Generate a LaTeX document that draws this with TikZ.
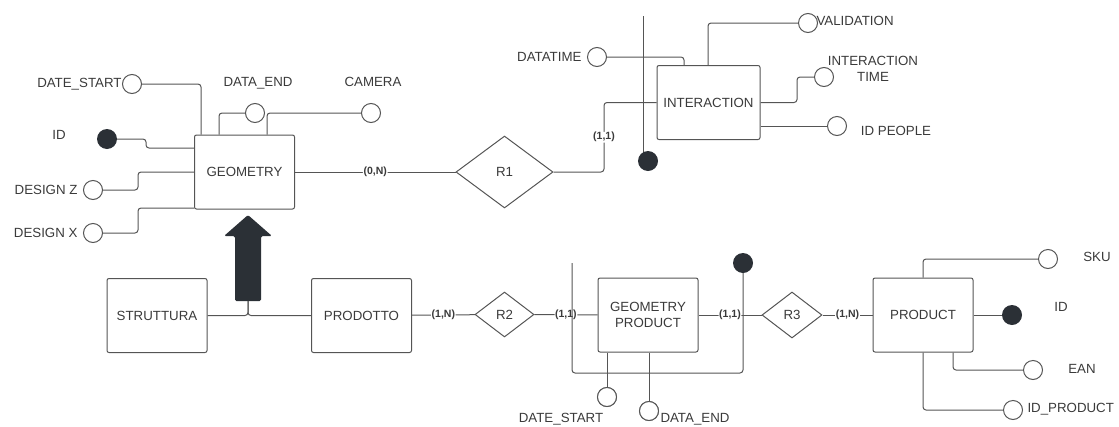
\documentclass[tikz,border=0pt]{standalone}
\usepackage{fontspec}
\setmainfont{Liberation Sans}
\usetikzlibrary{shapes.geometric}

\definecolor{erline}{HTML}{555555}
\definecolor{ertext}{HTML}{3A3A3A}
\definecolor{erdark}{HTML}{2B3036}

\begin{document}
\begin{tikzpicture}[x=1pt,y=-1pt,line width=1pt,
	entity/.style={draw=erline, rounded corners=2, minimum width=100, minimum height=74, align=center, text=ertext, font=\fontsize{13.3}{16}\selectfont},
	rel/.style={draw=erline, diamond, inner sep=0, text=ertext, font=\fontsize{13.3}{16}\selectfont},
	attr/.style={draw=erline, circle, fill=white, minimum size=19, inner sep=0},
	key/.style={circle, fill=erdark, minimum size=20, inner sep=0},
	lbl/.style={text=ertext, font=\fontsize{13.3}{16}\selectfont, inner sep=0, text height=9.5, text depth=0, align=center},
	card/.style={fill=white, inner sep=0.6, text=ertext, font=\fontsize{10.5}{12}\selectfont\bfseries},
	conn/.style={draw=erline, rounded corners=3}]
	\useasboundingbox (0,0) rectangle (1119,426);

	\node[entity] (geo) at (244.5,172) {GEOMETRY};
	\node[entity, minimum width=103] (inter) at (708.5,102.5) {INTERACTION};
	\node[entity] (strutt) at (157,315.5) {STRUTTURA};
	\node[entity] (prod) at (361.5,315.5) {PRODOTTO};
	\node[entity] (geoprod) at (648,315) {GEOMETRY\\PRODUCT};
	\node[entity] (product) at (923,315) {PRODUCT};

	\node[rel, minimum width=97, minimum height=72] (r1) at (504.5,172) {R1};
	\node[rel, minimum width=59, minimum height=45] (r2) at (504.5,314.5) {R2};
	\node[rel, minimum width=60, minimum height=46] (r3) at (792,315) {R3};

	% geometry
	\draw[conn] (132,84) -| (geo.north -| 201,0);
	\draw[conn] (255,113) -| (geo.north -| 219,0);
	\draw[conn] (371,113) -| (geo.north -| 267,0);
	\draw[conn] (107,139) -- (146,139) |- (geo.west |- 0,148);
	\draw[conn] (93,190) -| (138,172) -- (geo.west);
	\draw[conn] (93,233) -| (138,208) -- (geo.west |- 0,208);
	\node[attr] (dstart) at (132,84) {};
	\node[attr] (dend) at (255,113) {};
	\node[attr] (cam) at (371,113) {};
	\node[key] (idgeo) at (107,139) {};
	\node[attr] (desz) at (93,190) {};
	\node[attr] (desx) at (93,233) {};

	\node[lbl, anchor=east] (tdstart) at (122,83) {DATE\_START};
	\node[lbl] (tdend) at (258,82) {DATA\_END};
	\node[lbl] (tcam) at (373,82) {CAMERA};
	\node[lbl] (tidgeo) at (59,135) {ID};
	\node[lbl, anchor=east] (tdesz) at (78,190) {DESIGN Z};
	\node[lbl, anchor=east] (tdesx) at (78,233) {DESIGN X};

	\draw[conn] (geo) -- node[card] {(0,N)} (r1);
	\draw[conn] (r1.east) -| node[card, pos=0.75] {(1,1)} (inter.west -| 604,0) -- (inter.west);

	% interaction
	\coordinate (idtop) at (643,16);
	\draw[conn] (597,57) -| (inter.north -| 684,0);
	\draw[conn] (inter.north -| 708,0) |- (808,23);
	\draw[conn] (inter.east) -| (797,77) -- (824,77);
	\draw[conn] (inter.east |- 0,126) -- (837,126);
	\draw[erline] (idtop) -- (643,161);
	\node[attr] (dtime) at (597,57) {};
	\node[attr] (valid) at (808,23) {};
	\node[attr] (itime) at (824,77) {};
	\node[attr] (idpeople) at (837,126) {};
	\node[key] (idinter) at (648,161) {};

	\node[lbl, anchor=east] (tdtime) at (582,57) {DATATIME};
	\node[lbl, anchor=west] (tvalid) at (816,21) {VALIDATION};
	\node[lbl, text height=25.5] (titime) at (873,69) {INTERACTION\\TIME};
	\node[lbl] (tidpeople) at (896,131) {ID PEOPLE};

	% isa
	\fill[erdark, rounded corners=1.5] (248,215) -- (272,236) -- (261,236) -- (261,301) -- (235,301) -- (235,236) -- (224,236) -- cycle;
	\coordinate (isa) at (248,301);
	\draw[conn] (strutt.east) -| (isa);
	\draw[conn] (prod.west) -| (isa);

	\draw[conn] (prod) -- node[card] {(1,N)} (r2);
	\draw[conn] (r2) -- node[card] {(1,1)} (geoprod);
	\draw[conn] (geoprod) -- node[card] {(1,1)} (r3);
	\draw[conn] (r3) -- node[card] {(1,N)} (product);

	% geometry product
	\coordinate (gptop) at (572,263);
	\node[attr] (gpstart) at (607,397) {};
	\node[attr] (gpend) at (649,411) {};
	\draw[conn] (gpstart |- geoprod.south) -- (gpstart);
	\draw[conn] (gpend |- geoprod.south) -- (gpend);
	\draw[conn] (gptop) -- (gptop |- 0,373) -| (743,263);
	\node[attr] at (gpstart) {};
	\node[attr] at (gpend) {};
	\node[key] (idgp) at (743,263) {};

	\node[lbl] (tgpstart) at (561,418) {DATE\_START};
	\node[lbl, anchor=west] (tgpend) at (660,418) {DATA\_END};

	% product
	\draw[conn] (product.north) |- (1048,259);
	\draw[conn] (product) -- (1012,315);
	\draw[conn] (product.south -| 953,0) |- (1033,370);
	\draw[conn] (product.south) |- (1013,410);
	\node[attr] (sku) at (1048,259) {};
	\node[key] (idprod) at (1012,315) {};
	\node[attr] (ean) at (1033,370) {};
	\node[attr] (idproduct) at (1013,410) {};

	\node[lbl] (tsku) at (1097,257) {SKU};
	\node[lbl] (tidprod) at (1061,307) {ID};
	\node[lbl] (tean) at (1082,369) {EAN};
	\node[lbl, anchor=west] (tidproduct) at (1027,408) {ID\_PRODUCT};
\end{tikzpicture}
\end{document}
